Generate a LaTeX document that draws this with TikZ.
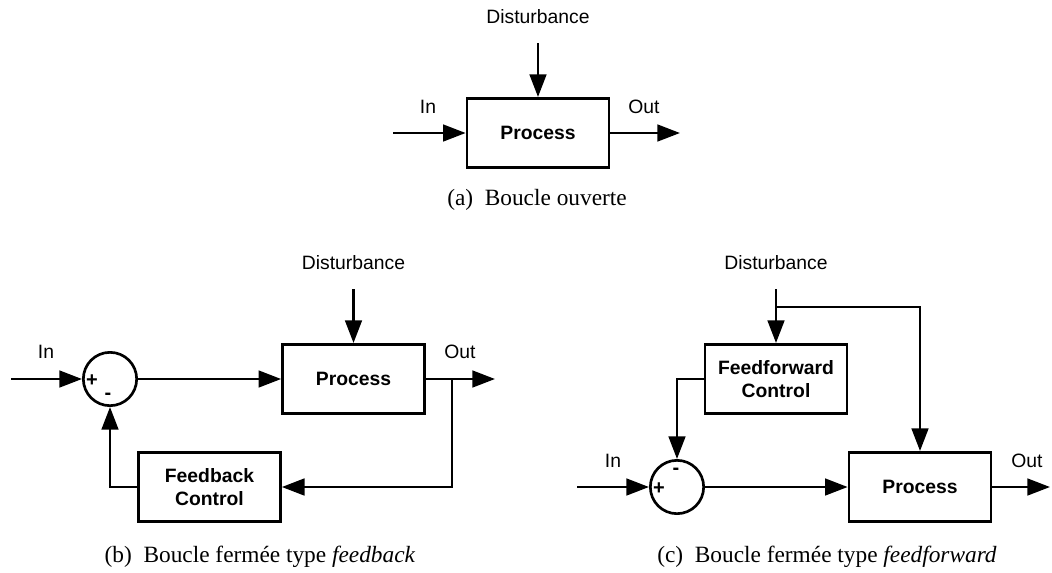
\documentclass[tikz,border=0pt]{standalone}
\usepackage{fontspec}
\setmainfont{Liberation Serif}
\setsansfont{Liberation Sans}
\usetikzlibrary{arrows.meta}

\begin{document}
\begin{tikzpicture}[x=0.75pt,y=-0.75pt,
    blk/.style={draw, line width=2pt, fill=white, align=center, minimum width=106.5pt, minimum height=52pt, inner sep=2pt, font=\sffamily\bfseries\fontsize{14.5}{17}\selectfont},
    sum/.style={draw, circle, line width=2pt, minimum size=40pt, inner sep=0pt},
    lbl/.style={font=\sffamily\fontsize{14.5}{17}\selectfont, inner sep=0pt},
    sgn/.style={font=\sffamily\bfseries\fontsize{15}{17}\selectfont, inner sep=0pt},
    subcap/.style={font=\fontsize{17.5}{21}\selectfont, inner sep=0pt},
    wire/.style={line width=2pt, -{Triangle[length=17pt,width=12.5pt]}}]
  \useasboundingbox (0,0) rectangle (1052,572);

  % (a) open loop
  \node[blk] (procA) at (538,133) {Process};
  \node[lbl] (distA) at (538,17) {Disturbance};
  \node[lbl] (inA) at (428,107) {In};
  \node[lbl] (outA) at (644,107) {Out};
  \coordinate (distAtop) at (538,43);
  \coordinate (inAstart) at (393,133);
  \coordinate (outAend) at (680,133);
  \draw[wire] (distAtop) -- (procA.north);
  \draw[wire] (inAstart) -- (procA.west);
  \draw[wire] (procA.east) -- (outAend);
  \node[subcap] (capA) at (537,200) {(a)\enspace Boucle ouverte};

  % (b) feedback
  \node[sum] (sumB) at (110,379) {};
  \node[sgn] (plusB) at (92,381) {+};
  \node[sgn] (minusB) at (108,396) {-};
  \node[blk] (procB) at (353.5,379) {Process};
  \node[blk] (fbB) at (209.5,487) {Feedback\\Control};
  \node[lbl] (distB) at (353.5,263) {Disturbance};
  \node[lbl] (inB) at (46,352) {In};
  \node[lbl] (outB) at (460,352) {Out};
  \coordinate (distBtop) at (353.5,289);
  \coordinate (inBstart) at (11,379);
  \coordinate (outBend) at (495,379);
  \coordinate (brB) at (452,379);
  \draw[wire] (inBstart) -- (sumB.west);
  \draw[wire] (sumB.east) -- (procB.west);
  \draw[wire] (distBtop) -- (procB.north);
  \draw[wire] (procB.east) -- (outBend);
  \draw[wire] (brB) |- (fbB.east);
  \draw[wire] (fbB.west) -| (sumB.south);
  \node[subcap] (capB) at (260,557) {(b)\enspace Boucle fermée type \textit{feedback}};

  % (c) feedforward
  \node[sum] (sumC) at (677,487) {};
  \node[sgn] (plusC) at (659,489) {+};
  \node[sgn] (minusC) at (676,471) {-};
  \node[blk] (ffC) at (776,379) {Feedforward\\Control};
  \node[blk] (procC) at (920,487) {Process};
  \node[lbl] (distC) at (776,263) {Disturbance};
  \node[lbl] (inC) at (613,461) {In};
  \node[lbl] (outC) at (1027,461) {Out};
  \coordinate (distCtop) at (776,289);
  \coordinate (jC) at (776,307);
  \coordinate (inCstart) at (577,487);
  \coordinate (outCend) at (1050,487);
  \draw[wire] (distCtop) -- (ffC.north);
  \draw[wire] (jC) -| (procC.north);
  \draw[wire] (ffC.west) -| (sumC.north);
  \draw[wire] (inCstart) -- (sumC.west);
  \draw[wire] (sumC.east) -- (procC.west);
  \draw[wire] (procC.east) -- (outCend);
  \node[subcap] (capC) at (827,557) {(c)\enspace Boucle fermée type \textit{feedforward}};
\end{tikzpicture}
\end{document}
